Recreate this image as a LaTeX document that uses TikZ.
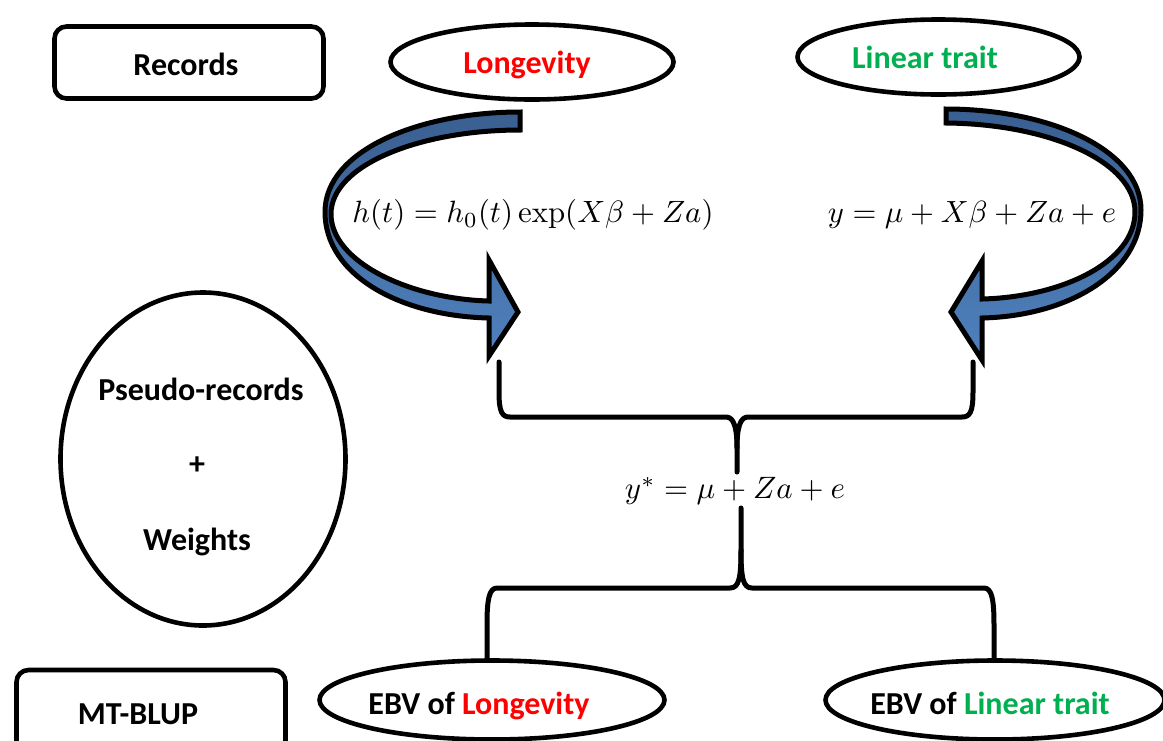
\documentclass[tikz,border=0pt]{standalone}
\usepackage[no-math]{fontspec}
\setmainfont{Carlito}
\usepackage{graphicx}
\usetikzlibrary{shapes.geometric}
\definecolor{tred}{RGB}{255,0,0}
\definecolor{tgreen}{RGB}{0,176,80}
\definecolor{arrowdark}{RGB}{58,95,145}
\definecolor{arrowlight}{RGB}{79,129,189}
\tikzset{
  boxst/.style={draw, line width=4.6pt, rounded corners=12pt, minimum width=269pt, minimum height=72pt, inner sep=0pt},
  ellst/.style={draw, ellipse, line width=4.6pt, inner sep=0pt},
  lbl/.style={anchor=base, inner sep=0pt, font=\fontsize{32}{38}\selectfont\bfseries},
  eqn/.style={inner sep=0pt},
  bracest/.style={line width=5pt, line join=round, line cap=round},
  bigarrow/.style={draw, line width=5pt, line join=miter, top color=arrowdark, bottom color=arrowlight},
}
\begin{document}
\begin{tikzpicture}[x=1pt,y=-1pt]
\useasboundingbox (0,0) rectangle (1163,740);
\fill[white] (0,0) rectangle (1163,740);

% boxes and ellipses
\node[boxst] (rec) at (189,62.5) {};
\node[lbl] (rectxt) at (186,75) {Records};
\node[ellst, minimum width=283pt, minimum height=75pt] (lon) at (532,62) {};
\node[lbl, text=tred] (lontxt) at (527,73) {Longevity};
\node[ellst, minimum width=282pt, minimum height=75pt] (lin) at (938.5,57) {};
\node[lbl, text=tgreen] (lintxt) at (925,68) {Linear trait};

\node[ellst, minimum width=285pt, minimum height=333pt] (pseudo) at (203,459) {};
\node[lbl] (p1) at (201,400) {Pseudo-records};
\node[lbl] (p2) at (197,474) {+};
\node[lbl] (p3) at (197,550) {Weights};

\node[boxst, minimum height=90pt] (mt) at (151,715) {};
\node[lbl] (mttxt) at (138,724) {MT-BLUP};
\node[ellst, minimum width=345pt, minimum height=79pt] (ebvl) at (492,700) {};
\node[lbl] (ebvltxt) at (479,714) {EBV of \textcolor{tred}{Longevity}};
\node[ellst, minimum width=339pt, minimum height=79pt] (ebvr) at (995,700) {};
\node[lbl] (ebvrtxt) at (990,714) {EBV of \textcolor{tgreen}{Linear trait}};

% curved arrows
\path[bigarrow] (520,112) .. controls (420,112) and (325,150) .. (325,212)
  .. controls (325,275) and (400,316) .. (489,318) -- (489,356) -- (518,312)
  -- (489,260) -- (489,301) .. controls (410,299) and (331,262) .. (331,214)
  .. controls (331,165) and (420,130) .. (520,130) -- cycle;
\path[bigarrow] (946,109) .. controls (1050,109) and (1141,150) .. (1141,210)
  .. controls (1141,272) and (1070,316) .. (982,318) -- (982,360) -- (951,312)
  -- (982,261) -- (982,299) .. controls (1062,297) and (1135,262) .. (1135,212)
  .. controls (1135,162) and (1050,124) .. (946,123) -- cycle;

% equations
\node[eqn] (eq1) at (533,215) {\resizebox{361pt}{!}{$h(t)=h_0(t)\exp(X\beta+Za)$}};
\node[eqn] (eq2) at (972,215) {\resizebox{288pt}{!}{$y=\mu+X\beta+Za+e$}};
\node[eqn] (eq3) at (735,491) {\resizebox{220pt}{!}{$y^{*}=\mu+Za+e$}};

% braces
\coordinate (ubl) at (499,362);
\coordinate (ubr) at (973,362);
\coordinate (ubs) at (737,472);
\coordinate (lbs) at (741,508);
\coordinate (lbl) at (487,660);
\coordinate (lbr) at (994,660);
\draw[bracest] (ubl) -- (499,392) .. controls (499,412) and (502,417) .. (510,417)
  -- (726,417) .. controls (734,417) and (737,428) .. (737,448) -- (ubs);
\draw[bracest] (ubr) -- (973,392) .. controls (973,412) and (970,417) .. (962,417)
  -- (748,417) .. controls (740,417) and (737,428) .. (737,448);
\draw[bracest] (lbs) -- (741,550) .. controls (741,578) and (739,588) .. (730,588)
  -- (497,588) .. controls (489,588) and (487,600) .. (487,625) -- (lbl);
\draw[bracest] (741,550) .. controls (741,578) and (743,588) .. (752,588)
  -- (984,588) .. controls (992,588) and (994,600) .. (994,625) -- (lbr);
\end{tikzpicture}
\end{document}
